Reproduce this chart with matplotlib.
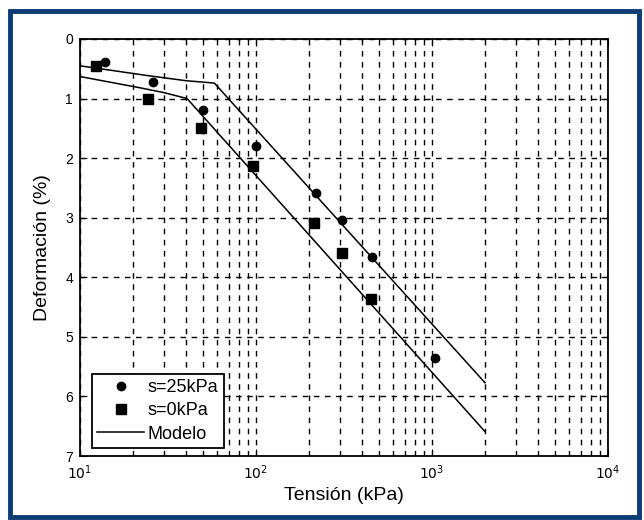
import matplotlib.pyplot as plt
from matplotlib.patches import Rectangle

# datos experimentales
tension_25 = [13.9, 26, 50, 100, 219, 309, 454, 1040]
deform_25 = [0.38, 0.72, 1.19, 1.80, 2.58, 3.04, 3.66, 5.35]

tension_0 = [12.3, 24.3, 49, 96, 213, 309, 450]
deform_0 = [0.46, 1.00, 1.49, 2.14, 3.09, 3.59, 4.37]

# modelo
modelo_25_x = [10, 25, 40, 58, 2000]
modelo_25_y = [0.45, 0.62, 0.70, 0.74, 5.77]
modelo_0_x = [10, 22, 30, 40.6, 2000]
modelo_0_y = [0.63, 0.82, 0.90, 1.00, 6.59]

plt.rcParams['font.family'] = ['Liberation Sans', 'DejaVu Sans']

fig = plt.figure(figsize=(6.44, 5.20), dpi=100)
ax = fig.add_axes([80 / 644, 1 - 456 / 520, 528 / 644, 417 / 520])

# marco azul de la figura
fig.patches.append(Rectangle((10 / 644, 3 / 520), 629 / 644, 506 / 520,
                             transform=fig.transFigure, fill=False,
                             edgecolor='#0b3c74', linewidth=3.5))

ax.plot(tension_25, deform_25, 'o', color='black', markersize=6, label='s=25kPa')
ax.plot(tension_0, deform_0, 's', color='black', markersize=7, label='s=0kPa')
ax.plot(modelo_25_x, modelo_25_y, '-', color='black', linewidth=1.1, label='Modelo')
ax.plot(modelo_0_x, modelo_0_y, '-', color='black', linewidth=1.1)

ax.set_xscale('log')
ax.set_xlim(10, 1e4)
ax.set_ylim(7, 0)
ax.set_yticks(range(8))
ax.set_xticks([10, 100, 1000, 10000])
ax.set_xticklabels(['$10^{1}$', '$10^{2}$', '$10^{3}$', '$10^{4}$'])

ax.grid(True, which='major', color='black', linestyle=(0, (4, 4)), linewidth=1)
ax.grid(True, which='minor', axis='x', color='black', linestyle=(0, (4, 4)), linewidth=1)
ax.tick_params(which='both', direction='in', top=True, right=True, labelsize=10, pad=5)
ax.tick_params(which='major', length=5)
ax.tick_params(which='minor', length=3)
for s in ax.spines.values():
    s.set_linewidth(1.3)

ax.set_xlabel('Tensión (kPa)', fontsize=14, labelpad=4)
ax.set_ylabel('Deformación (%)', fontsize=14, labelpad=10)

leg = ax.legend(loc='lower left', bbox_to_anchor=(12 / 528, 8 / 417), borderaxespad=0,
                fancybox=False, edgecolor='black', framealpha=1, fontsize=13,
                handlelength=2.6, handletextpad=0.2, labelspacing=0.35, borderpad=0.3)
leg.get_frame().set_linewidth(1.3)

fig.savefig('out.png', dpi=100)
